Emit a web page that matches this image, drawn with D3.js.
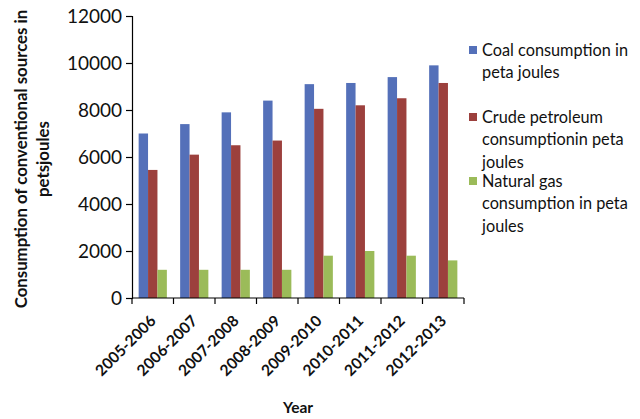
<!DOCTYPE html>
<html><head><meta charset="utf-8">
<script src="https://cdn.jsdelivr.net/npm/d3@7"></script>
<style>
html,body{margin:0;padding:0;background:#fff;}
svg{display:block;font-family:Lato,"Open Sans",sans-serif;}
</style></head>
<body>
<svg id="chart" width="640" height="419"></svg>
<script>
const categories = ["2005-2006","2006-2007","2007-2008","2008-2009","2009-2010","2010-2011","2011-2012","2012-2013"];
const coal = [7000, 7400, 7900, 8400, 9100, 9150, 9400, 9900];
const crude = [5450, 6100, 6500, 6700, 8050, 8200, 8500, 9150];
const gas = [1200, 1200, 1200, 1200, 1800, 2000, 1800, 1600];
const yTicks = [0, 2000, 4000, 6000, 8000, 10000, 12000];
const seriesNames = ["Coal consumption in peta joules", "Crude petroleum consumptionin peta joules", "Natural gas consumption in peta joules"];
const legendLines = [["Coal consumption in","peta joules"],["Crude petroleum","consumptionin peta","joules"],["Natural gas","consumption in peta","joules"]];
const colors = ["#5470B9", "#9C403D", "#9BBB59"];
const yTitleLines = ["Consumption of conventional sources in", "petsjoules"];
const xTitle = "Year";

(function() {
const series = [coal, crude, gas];
const svg = d3.select("#chart");
const pLeft = 132, pRight = 464, pTop = 16, pBottom = 298;

const x0 = d3.scaleBand().domain(categories).range([pLeft, pRight]).paddingInner(0.32).paddingOuter(0.16);
const x1 = d3.scaleBand().domain(d3.range(series.length)).range([0, x0.bandwidth()]);
const y = d3.scaleLinear().domain([0, 12000]).range([pBottom, pTop]);

// bars
const groups = svg.append("g").selectAll("g").data(categories).join("g")
  .attr("transform", d => `translate(${x0(d)},0)`);
groups.selectAll("rect").data((d, i) => series.map((s, k) => ({k, v: s[i]}))).join("rect")
  .attr("x", d => x1(d.k)).attr("width", x1.bandwidth())
  .attr("y", d => y(d.v)).attr("height", d => y(0) - y(d.v))
  .attr("fill", d => colors[d.k]);

// y axis
const yAxis = svg.append("g").attr("transform", `translate(${pLeft},0)`)
  .call(d3.axisLeft(y).tickValues(yTicks).tickSize(6).tickPadding(4).tickFormat(d3.format("d")));
yAxis.select(".domain").attr("stroke", "#000").attr("stroke-width", 1.2);
yAxis.selectAll(".tick line").attr("stroke", "#000").attr("stroke-width", 1.2);
yAxis.selectAll(".tick text").attr("font-size", 19).attr("fill", "#111").attr("font-family", "Lato, sans-serif");

// x axis
const xAxisG = svg.append("g").attr("transform", `translate(0,${pBottom})`);
xAxisG.append("line").attr("x1", pLeft).attr("x2", pRight).attr("stroke", "#000").attr("stroke-width", 1.2);
const step = x0.step();
xAxisG.selectAll("line.tk").data(d3.range(categories.length + 1)).join("line").attr("class", "tk")
  .attr("x1", i => pLeft + i * step).attr("x2", i => pLeft + i * step)
  .attr("y1", 0).attr("y2", 6).attr("stroke", "#000").attr("stroke-width", 1.2);
xAxisG.selectAll("text").data(categories).join("text")
  .attr("transform", d => `translate(${x0(d) + x0.bandwidth() / 2 + 4},${24}) rotate(-45)`)
  .attr("text-anchor", "end").attr("font-size", 15.5).attr("font-weight", "bold").attr("fill", "#111")
  .text(d => d);

// axis titles
svg.append("g").selectAll("text").data(yTitleLines).join("text")
  .attr("transform", (d, i) => `translate(${i === 0 ? 27 : 49},159) rotate(-90)`)
  .attr("text-anchor", "middle").attr("font-size", 16.8).attr("font-weight", "bold").attr("fill", "#111")
  .text(d => d);
svg.append("text").attr("x", 298).attr("y", 413).attr("text-anchor", "middle")
  .attr("font-size", 15.5).attr("font-weight", "bold").attr("fill", "#111").text(xTitle);

// legend
const legendTop = [50, 117, 181];
const lg = svg.append("g").selectAll("g").data(seriesNames).join("g");
lg.append("rect").attr("x", 469).attr("y", (d, i) => legendTop[i] - 4).attr("width", 8).attr("height", 8)
  .attr("fill", (d, i) => colors[i]);
lg.each(function(d, i) {
  d3.select(this).selectAll("text").data(legendLines[i]).join("text")
    .attr("x", 482).attr("y", (t, j) => legendTop[i] + j * 22.5 + 5.5)
    .attr("font-size", 16.3).attr("fill", "#111").text(t => t);
});
})();
</script>
</body></html>
